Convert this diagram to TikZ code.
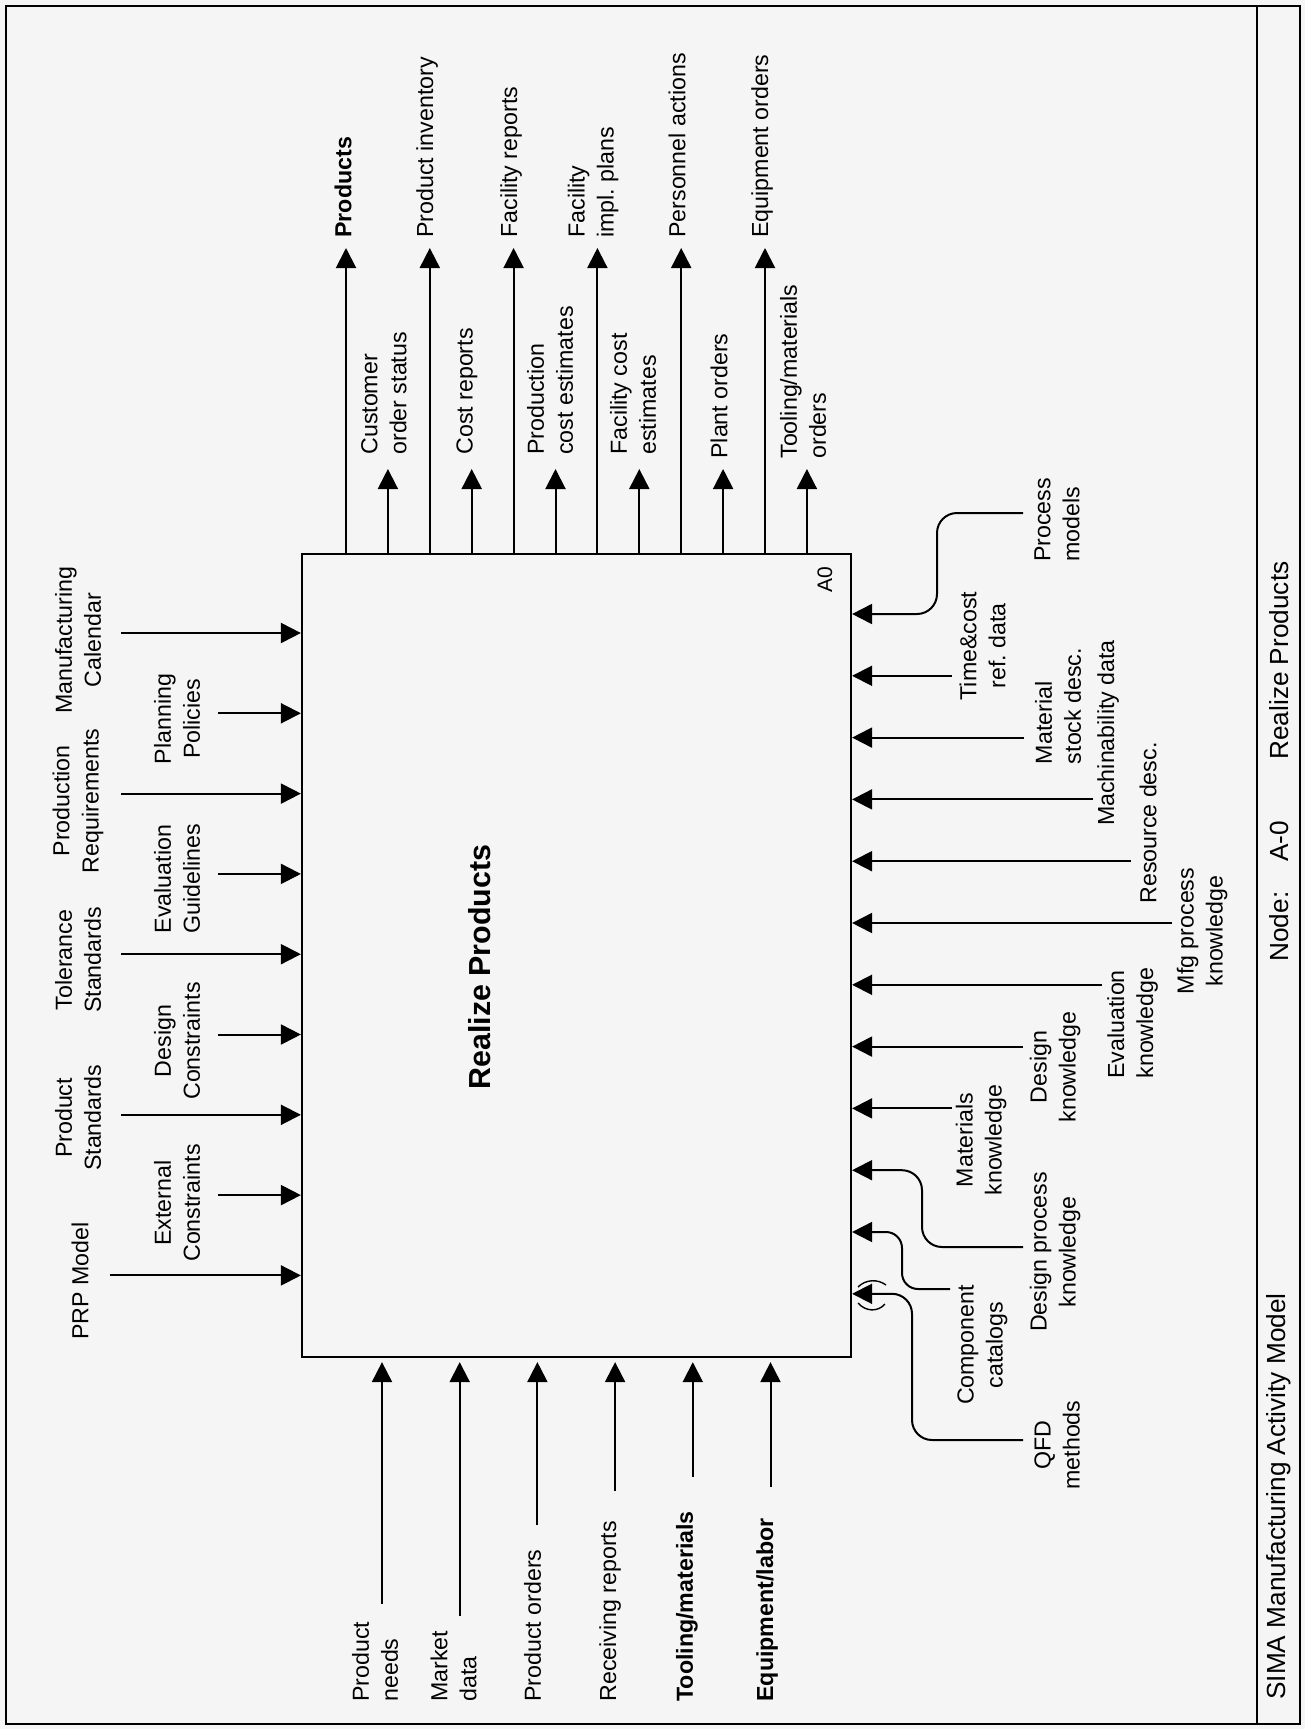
\documentclass[tikz,border=0pt]{standalone}
\usepackage{fontspec}
\setmainfont{Liberation Sans}
\usetikzlibrary{arrows.meta}
\frenchspacing

\begin{document}
\begin{tikzpicture}[x=0.5pt, y=-0.5pt,
  arr/.style={line width=1pt, -{Triangle[length=10pt,width=10pt]}},
  lbl/.style={rotate=90, inner sep=0pt, font=\fontsize{11.6}{14.5}\selectfont},
  lblb/.style={lbl, font=\fontsize{11.6}{14.5}\selectfont\bfseries},
  ttl/.style={rotate=90, inner sep=0pt, anchor=west, font=\fontsize{13.1}{16}\selectfont}]

\useasboundingbox (0,0) rectangle (1305,1729);
\fill [black!4] (0,0) rectangle (1305,1729);

\draw [line width=1.1pt] (6,6) rectangle (1300,1724);
\draw [line width=1pt] (1257,6) -- (1257,1724);

\node [draw, line width=1.1pt, minimum width=274.5pt, minimum height=401.5pt, inner sep=0pt] (box) at (576.5,955.5) {};
\node [lblb, font=\fontsize{15.2}{18}\selectfont\bfseries] (title) at (480,967) {Realize Products};
\node [lbl, font=\fontsize{10.5}{12}\selectfont] (a0) at (825,580) {A0};


\coordinate (O1) at (346,248);
\coordinate (O2) at (387.9,469);
\coordinate (O3) at (429.8,248);
\coordinate (O4) at (471.7,469);
\coordinate (O5) at (513.6,248);
\coordinate (O6) at (555.5,469);
\coordinate (O7) at (597.4,248);
\coordinate (O8) at (639.3,469);
\coordinate (O9) at (681.2,248);
\coordinate (O10) at (723.1,469);
\coordinate (O11) at (765,248);
\coordinate (O12) at (806.9,469);

\draw [arr] (O1 |- box.north) -- (O1);
\draw [arr] (O2 |- box.north) -- (O2);
\draw [arr] (O3 |- box.north) -- (O3);
\draw [arr] (O4 |- box.north) -- (O4);
\draw [arr] (O5 |- box.north) -- (O5);
\draw [arr] (O6 |- box.north) -- (O6);
\draw [arr] (O7 |- box.north) -- (O7);
\draw [arr] (O8 |- box.north) -- (O8);
\draw [arr] (O9 |- box.north) -- (O9);
\draw [arr] (O10 |- box.north) -- (O10);
\draw [arr] (O11 |- box.north) -- (O11);
\draw [arr] (O12 |- box.north) -- (O12);

\node [lblb, anchor=west] (o1) at (343,238) {Products};
\node [lbl, anchor=west, align=left] (o2) at (384,455) {Customer\\order status};
\node [lbl, anchor=west] (o3) at (427,238) {Product inventory};
\node [lbl, anchor=west] (o4) at (467,455) {Cost reports};
\node [lbl, anchor=west] (o5) at (511,238) {Facility reports};
\node [lbl, anchor=west, align=left] (o6) at (550,455) {Production\\cost estimates};
\node [lbl, anchor=west, align=left] (o7) at (593,238) {Facility\\impl. plans};
\node [lbl, anchor=west, align=left] (o8) at (633,455) {Facility cost\\estimates};
\node [lbl, anchor=west] (o9) at (677,238) {Personnel actions};
\node [lbl, anchor=west] (o10) at (719,459) {Plant orders};
\node [lbl, anchor=west] (o11) at (762,238) {Equipment orders};
\node [lbl, anchor=west, align=left] (o12) at (803,459) {Tooling/materials\\orders};


\coordinate (C1) at (121,633);
\coordinate (C2) at (218,713.3);
\coordinate (C3) at (121,793.6);
\coordinate (C4) at (218,873.9);
\coordinate (C5) at (121,954.2);
\coordinate (C6) at (218,1034.5);
\coordinate (C7) at (121,1114.8);
\coordinate (C8) at (218,1195.1);
\coordinate (C9) at (110,1275.4);

\draw [arr] (C1) -- (C1 -| box.west);
\draw [arr] (C2) -- (C2 -| box.west);
\draw [arr] (C3) -- (C3 -| box.west);
\draw [arr] (C4) -- (C4 -| box.west);
\draw [arr] (C5) -- (C5 -| box.west);
\draw [arr] (C6) -- (C6 -| box.west);
\draw [arr] (C7) -- (C7 -| box.west);
\draw [arr] (C8) -- (C8 -| box.west);
\draw [arr] (C9) -- (C9 -| box.west);

\node [lbl, align=center] (c1) at (78,640) {Manufacturing\\Calendar};
\node [lbl, align=center] (c2) at (177,719) {Planning\\Policies};
\node [lbl, align=center] (c3) at (78,801) {Production\\Requirements};
\node [lbl, align=center] (c4) at (177,879) {Evaluation\\Guidelines};
\node [lbl, align=center] (c5) at (78,960) {Tolerance\\Standards};
\node [lbl, align=center] (c6) at (177,1041) {Design\\Constraints};
\node [lbl, align=center] (c7) at (78,1118) {Product\\Standards};
\node [lbl, align=center] (c8) at (177,1203) {External\\Constraints};
\node [lbl] (c9) at (80,1281) {PRP Model};


\coordinate (I1) at (382,1604);
\coordinate (I2) at (459.7,1616);
\coordinate (I3) at (537.4,1525);
\coordinate (I4) at (615.1,1491);
\coordinate (I5) at (692.8,1477);
\coordinate (I6) at (770.5,1487);

\draw [arr, shorten >=2pt] (I1) -- (I1 |- box.south);
\draw [arr, shorten >=2pt] (I2) -- (I2 |- box.south);
\draw [arr, shorten >=2pt] (I3) -- (I3 |- box.south);
\draw [arr, shorten >=2pt] (I4) -- (I4 |- box.south);
\draw [arr, shorten >=2pt] (I5) -- (I5 |- box.south);
\draw [arr, shorten >=2pt] (I6) -- (I6 |- box.south);

\node [lbl, anchor=west, align=left] (i1) at (375,1702) {Product\\needs};
\node [lbl, anchor=west, align=left] (i2) at (453.5,1702) {Market\\data};
\node [lbl, anchor=west] (i3) at (532.6,1702) {Product orders};
\node [lbl, anchor=west] (i4) at (610,1702) {Receiving reports};
\node [lblb, anchor=west] (i5) at (687,1702) {Tooling/materials};
\node [lblb, anchor=west] (i6) at (767,1702) {Equipment/labor};


\coordinate (M1) at (1023,513);
\coordinate (M1a) at (937,614);
\coordinate (M2) at (952,675.8);
\coordinate (M3) at (1024,737.6);
\coordinate (M4) at (1093,799.4);
\coordinate (M5) at (1131,861.2);
\coordinate (M6) at (1172,923);
\coordinate (M7) at (1102,984.8);
\coordinate (M8) at (1023,1046.6);
\coordinate (M9) at (952,1108.4);
\coordinate (M10) at (1023,1247);
\coordinate (M10a) at (922,1170.2);
\coordinate (M11) at (950,1289);
\coordinate (M11a) at (902,1232);
\coordinate (M12) at (1023,1440);
\coordinate (M12a) at (912,1293.8);

\draw [arr, rounded corners=10pt] (M1) -| (M1a) -- (M1a -| box.east);
\draw [arr] (M2) -- (M2 -| box.east);
\draw [arr] (M3) -- (M3 -| box.east);
\draw [arr] (M4) -- (M4 -| box.east);
\draw [arr] (M5) -- (M5 -| box.east);
\draw [arr] (M6) -- (M6 -| box.east);
\draw [arr] (M7) -- (M7 -| box.east);
\draw [arr] (M8) -- (M8 -| box.east);
\draw [arr] (M9) -- (M9 -| box.east);
\draw [arr, rounded corners=10pt] (M10) -| (M10a) -- (M10a -| box.east);
\draw [arr, rounded corners=8pt] (M11) -| (M11a) -- (M11a -| box.east);
\draw [arr, rounded corners=10pt] (M12) -| (M12a) -- (M12a -| box.east);

\draw [line width=0.7pt] (858,1287) .. controls (866,1279) and (878,1279) .. (886,1285);
\draw [line width=0.7pt] (858,1303) .. controls (866,1312) and (878,1312) .. (885,1304);

\node [lbl, align=left] (m1) at (1057,520) {Process\\models};
\node [lbl, align=center] (m2) at (982.5,646) {Time\&cost\\ref. data};
\node [lbl, align=left] (m3) at (1058,706) {Material\\stock desc.};
\node [lbl] (m4) at (1108,733) {Machinability data};
\node [lbl] (m5) at (1148,823) {Resource desc.};
\node [lbl, align=center] (m6) at (1202,931) {Mfg process\\knowledge};
\node [lbl, align=left] (m7) at (1132.5,1023) {Evaluation\\knowledge};
\node [lbl, align=center] (m8) at (1055,1067) {Design\\knowledge};
\node [lbl, align=center] (m9) at (981,1140) {Materials\\knowledge};
\node [lbl, align=center] (m10) at (1055,1252) {Design process\\knowledge};
\node [lbl, align=center] (m11) at (982.5,1345) {Component\\catalogs};
\node [lbl, align=center] (m12) at (1057,1445) {QFD\\methods};


\node [ttl] (model) at (1279,1700) {SIMA Manufacturing Activity Model};
\node [ttl] (nodelbl) at (1279,962) {Node:};
\node [ttl] (nodenum) at (1279,862) {A-0};
\node [ttl] (nodetitle) at (1279,760) {Realize Products};

\end{tikzpicture}
\end{document}
